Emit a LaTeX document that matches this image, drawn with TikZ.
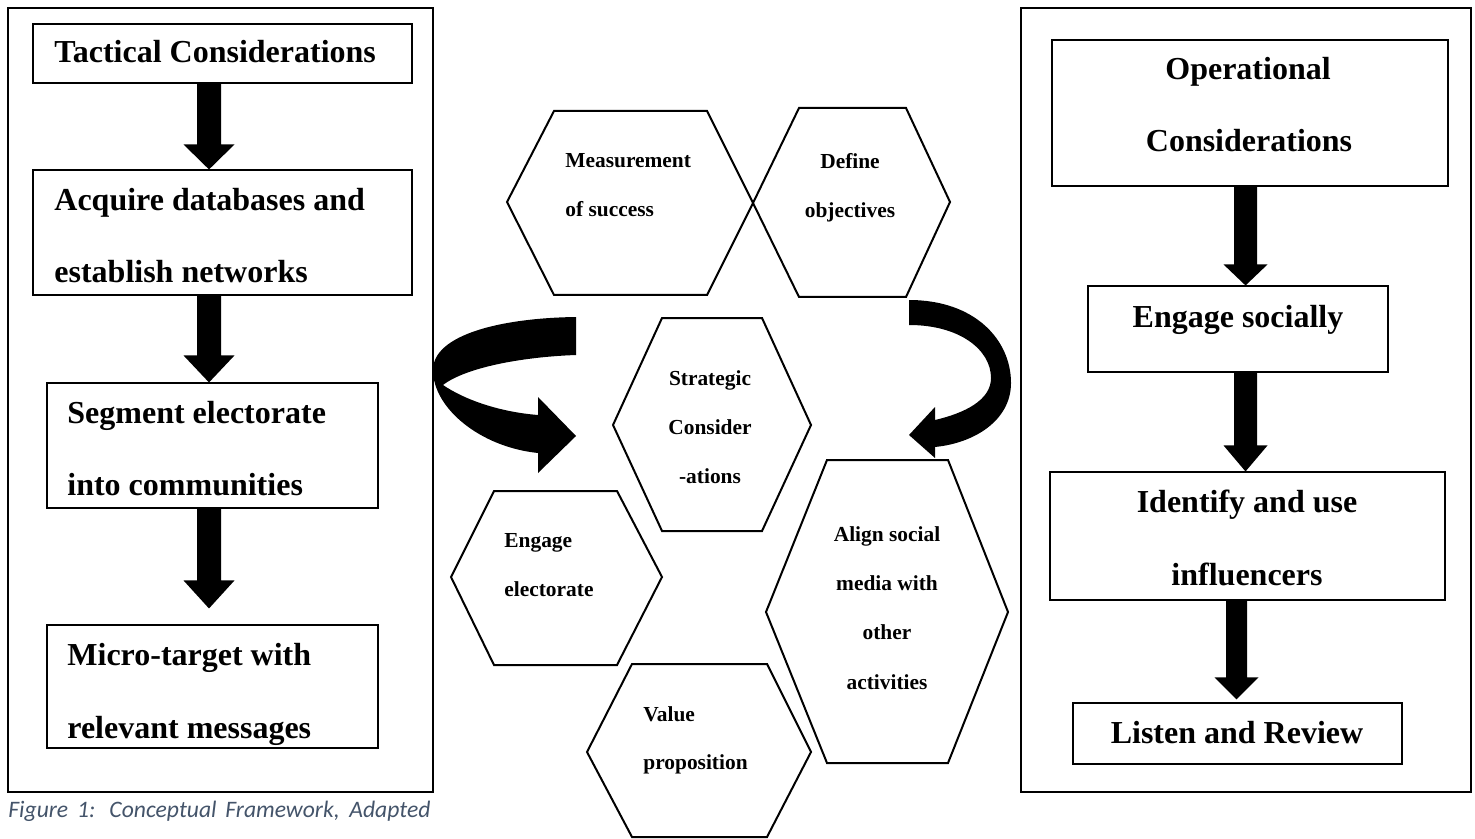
\documentclass[tikz,border=0pt]{standalone}
\usepackage{fontspec}
\setmainfont{Liberation Serif}
\newfontfamily\capfont{Carlito}
\usetikzlibrary{calc,fit}
\definecolor{capcol}{HTML}{44546A}
\newcommand\BArrow[5]{\fill ($(#1)+(-#3,0)$) -- ($(#2)+(-#3,-#5)$) -- ($(#2)+(-#4,-#5)$) -- (#2) -- ($(#2)+(#4,-#5)$) -- ($(#2)+(#3,-#5)$) -- ($(#1)+(#3,0)$) -- cycle;}
\begin{document}
\begin{tikzpicture}[x=0.5pt,y=-0.5pt,
 frame/.style={draw, line width=1.1pt, inner sep=0pt},
 box/.style={draw, line width=0.55pt, inner sep=0pt},
 hexa/.style={draw, line width=1pt, line join=miter},
 bt/.style={font=\bfseries\fontsize{16}{19}\selectfont, inner sep=0pt},
 ht/.style={font=\bfseries\fontsize{10.7}{13}\selectfont, inner sep=0pt}]
\useasboundingbox (0,0) rectangle (1475,839);

% frames
\node[frame, fit={(8,8) (433,792)}] (lf) {};
\node[frame, fit={(1021,8) (1471,792)}] (rf) {};

% left boxes
\node[box, fit={(33,24) (412,83)}] (tac) {};
\node[box, fit={(33,170) (412,295)}] (acq) {};
\node[box, fit={(47,383) (378,508)}] (seg) {};
\node[box, fit={(47,625) (378,748)}] (mic) {};
\node[bt, anchor=base west] (tacT) at (54,63) {Tactical Considerations};
\node[bt, anchor=base west] (acqA) at (54,211) {Acquire databases and};
\node[bt, anchor=base west] (acqB) at (54,283) {establish networks};
\node[bt, anchor=base west] (segA) at (67,423) {Segment electorate};
\node[bt, anchor=base west] (segB) at (67,495) {into communities};
\node[bt, anchor=base west] (micA) at (67,665) {Micro-target with};
\node[bt, anchor=base west] (micB) at (67,738) {relevant messages};

% right boxes
\node[box, fit={(1052,40) (1448,186)}] (ope) {};
\node[box, fit={(1088,286) (1388,372)}] (eng) {};
\node[box, fit={(1050,472) (1445,600)}] (ide) {};
\node[box, fit={(1073,703) (1402,764)}] (lis) {};
\node[bt, anchor=base] (opeA) at (1248,80) {Operational};
\node[bt, anchor=base] (opeB) at (1249,152) {Considerations};
\node[bt, anchor=base] (engT) at (1238,328) {Engage socially};
\node[bt, anchor=base] (ideA) at (1247,512) {Identify and use};
\node[bt, anchor=base] (ideB) at (1247,585) {influencers};
\node[bt, anchor=base] (lisT) at (1237,743) {Listen and Review};

% block arrows left
\coordinate (axl) at (209,0);
\coordinate (a1s) at (tac.south -| axl);
\coordinate (a1t) at (acq.north -| axl);
\coordinate (a2s) at (acq.south -| axl);
\coordinate (a2t) at (seg.north -| axl);
\coordinate (a3s) at (seg.south -| axl);
\coordinate (a3t) at ($(mic.north -| axl)+(0,-16)$);
\BArrow{a1s}{a1t}{12}{25.5}{25}
\BArrow{a2s}{a2t}{12}{25.5}{27}
\BArrow{a3s}{a3t}{12}{25.5}{28}

% block arrows right
\coordinate (axr1) at (1245.5,0);
\coordinate (axr3) at (1236.5,0);
\coordinate (b1s) at (ope.south -| axr1);
\coordinate (b1t) at (eng.north -| axr1);
\coordinate (b2s) at (eng.south -| axr1);
\coordinate (b2t) at (ide.north -| axr1);
\coordinate (b3s) at (ide.south -| axr3);
\coordinate (b3t) at ($(lis.north -| axr3)+(0,-3)$);
\BArrow{b1s}{b1t}{11.5}{22}{21}
\BArrow{b2s}{b2t}{11.5}{22}{26}
\BArrow{b3s}{b3t}{10.5}{22}{22}

% hexagons
\draw[hexa] (507,202) -- (554,111) -- (707,111) -- (753,203) -- (707,295) -- (554,295) -- cycle;
\draw[hexa] (753,203) -- (799,108) -- (906,108) -- (950,202) -- (906,297) -- (799,297) -- cycle;
\draw[hexa] (613,425) -- (662,318) -- (762,318) -- (811,425) -- (762,531) -- (662,531) -- cycle;
\draw[hexa] (451,577) -- (494,491) -- (617,491) -- (662,577) -- (617,665) -- (494,665) -- cycle;
\draw[hexa] (587,752) -- (632,664) -- (767,664) -- (811,752) -- (767,837) -- (632,837) -- cycle;
\draw[hexa] (766,612) -- (827,460) -- (948,460) -- (1008,612) -- (948,763) -- (827,763) -- cycle;

\node[ht, anchor=base west] (measA) at (565,168) {Measurement};
\node[ht, anchor=base west] (measB) at (565,217) {of success};
\node[ht, anchor=base] (defA) at (850,169) {Define};
\node[ht, anchor=base] (defB) at (850,218) {objectives};
\node[ht, anchor=base] (strA) at (710,385) {Strategic};
\node[ht, anchor=base] (strB) at (710,434) {Consider};
\node[ht, anchor=base] (strC) at (710,483) {-ations};
\node[ht, anchor=base west] (eleA) at (504,547) {Engage};
\node[ht, anchor=base west] (eleB) at (504,596) {electorate};
\node[ht, anchor=base west] (valA) at (643,721) {Value};
\node[ht, anchor=base west] (valB) at (643,769) {proposition};
\node[ht, anchor=base] (aliA) at (887,541) {Align social};
\node[ht, anchor=base] (aliB) at (887,590) {media with};
\node[ht, anchor=base] (aliC) at (887,639) {other};
\node[ht, anchor=base] (aliD) at (887,689) {activities};

% curved arrows
\fill (576,317) .. controls (500,318) and (433,335) .. (433,370)
  .. controls (433,408) and (480,447) .. (538,453)
  -- (538,473) -- (576,436) -- (538,397) -- (538,415)
  .. controls (500,412) and (465,400) .. (443,385)
  .. controls (465,368) and (520,357) .. (576,355) -- cycle;
\fill (909,300) .. controls (975,300) and (1011,340) .. (1011,383)
  .. controls (1011,420) and (975,443) .. (935,447)
  -- (935,458) -- (909,435) -- (935,407) -- (935,420)
  .. controls (965,413) and (991,400) .. (991,378)
  .. controls (991,350) and (960,325) .. (909,325) -- cycle;

% caption
\node[anchor=base west, inner sep=0pt, font=\capfont\itshape\fontsize{11.8}{14}\selectfont, text=capcol] (cap) at (8,817) {\makebox[211pt][s]{Figure 1: Conceptual Framework, Adapted}};
\end{tikzpicture}
\end{document}
